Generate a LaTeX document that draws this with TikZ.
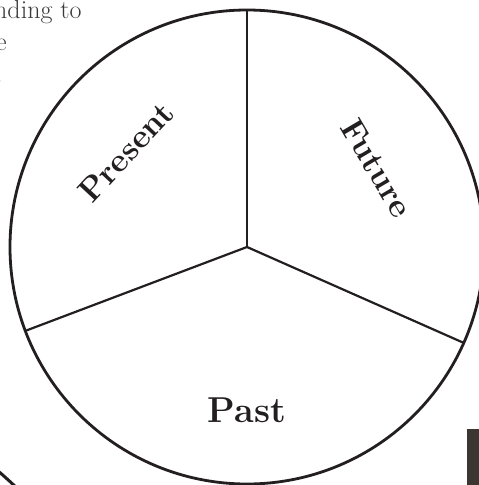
\documentclass[tikz,border=0pt]{standalone}
\usepackage{fontspec}
\begin{document}
\begin{tikzpicture}[x=1pt,y=-1pt,
  ink/.style={draw=inkc},
  lbl/.style={text=inkc,font=\fontsize{33}{38}\selectfont\bfseries,inner sep=0pt},
  side/.style={text=sidec,font=\fontsize{26}{32}\selectfont,inner sep=0pt,anchor=base west}]
\definecolor{inkc}{HTML}{231F20}
\definecolor{sidec}{HTML}{3A3A3A}
\definecolor{barc}{HTML}{3B3631}
\useasboundingbox (0,0) rectangle (479,485);
\begin{scope}
\clip (0,0) rectangle (479,485);
\coordinate (c) at (247,247);
\coordinate (t) at (247,10);
\coordinate (l) at (25,331);
\coordinate (r) at (464,343);
\draw[ink,line width=2.8pt] (c) circle[radius=237pt];
\draw[ink,line width=2.2pt] (c) -- (t);
\draw[ink,line width=2.2pt] (c) -- (l);
\draw[ink,line width=2.2pt] (c) -- (r);
\node[lbl,rotate=47] (present) at (126,152) {Present};
\node[lbl,rotate=-59.5] (future) at (377,168) {Future};
\node[lbl,font=\fontsize{36}{40}\selectfont\bfseries] (past) at (247,410) {Past};
\node[side] (s1) at (-6,18) {nding to};
\node[side] (s2) at (-4,50) {e};
\node[side] (s3) at (-4,82) {.};
\coordinate (a1) at (-3,470);
\coordinate (a2) at (17,488);
\draw[ink,line width=3pt] (a1) .. controls (5,477) .. (a2);
\fill[barc] (467,429) rectangle (479,485);
\end{scope}
\end{tikzpicture}
\end{document}
